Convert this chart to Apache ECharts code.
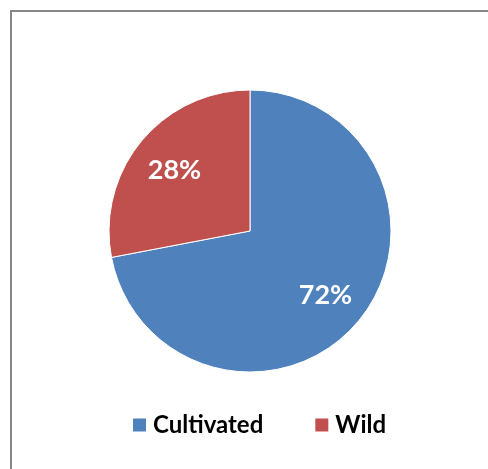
<!DOCTYPE html>
<html>
<head>
<meta charset="utf-8">
<script src="https://cdn.jsdelivr.net/npm/echarts@6/dist/echarts.min.js"></script>
<style>
html,body{margin:0;padding:0;background:#fff;}
#chart{width:488px;height:469px;}
</style>
</head>
<body>
<div id="chart"></div>
<script>
var categories = ['Cultivated', 'Wild'];
var values = [72, 28];
var colors = ['#4F81BD', '#C0504D'];

var pieData = categories.map(function (c, i) {
  return { name: c, value: values[i], itemStyle: { color: colors[i] } };
});
var labelData = categories.map(function (c, i) {
  return { name: c, value: values[i] };
});

var chart = echarts.init(document.getElementById('chart'));
chart.setOption({
  backgroundColor: '#ffffff',
  animation: false,
  graphic: [{
    type: 'rect',
    shape: { x: 11, y: 11, width: 600, height: 600 },
    style: { fill: 'none', stroke: '#878787', lineWidth: 2 },
    silent: true
  }],
  legend: {
    data: categories,
    left: 131,
    top: 413,
    padding: 0,
    icon: 'rect',
    itemWidth: 15,
    itemHeight: 15,
    itemGap: 50,
    textStyle: { fontFamily: 'Lato', fontWeight: 'bold', fontSize: 24, color: '#000', padding: [0, 0, 0, 1] }
  },
  series: [{
    type: 'pie',
    center: [250, 231],
    radius: 141,
    startAngle: 90,
    clockwise: true,
    silent: true,
    label: { show: false },
    labelLine: { show: false },
    itemStyle: { borderColor: '#ffffff', borderWidth: 1 },
    data: pieData
  }, {
    type: 'pie',
    center: [250, 233],
    radius: [49, 141],
    startAngle: 90,
    clockwise: true,
    silent: true,
    itemStyle: { color: 'rgba(0,0,0,0)' },
    label: {
      show: true,
      position: 'inside',
      formatter: '{c}%',
      fontFamily: 'Lato',
      fontWeight: 'bold',
      fontSize: 27,
      color: '#ffffff'
    },
    labelLine: { show: false },
    data: labelData
  }]
});
</script>
</body>
</html>
